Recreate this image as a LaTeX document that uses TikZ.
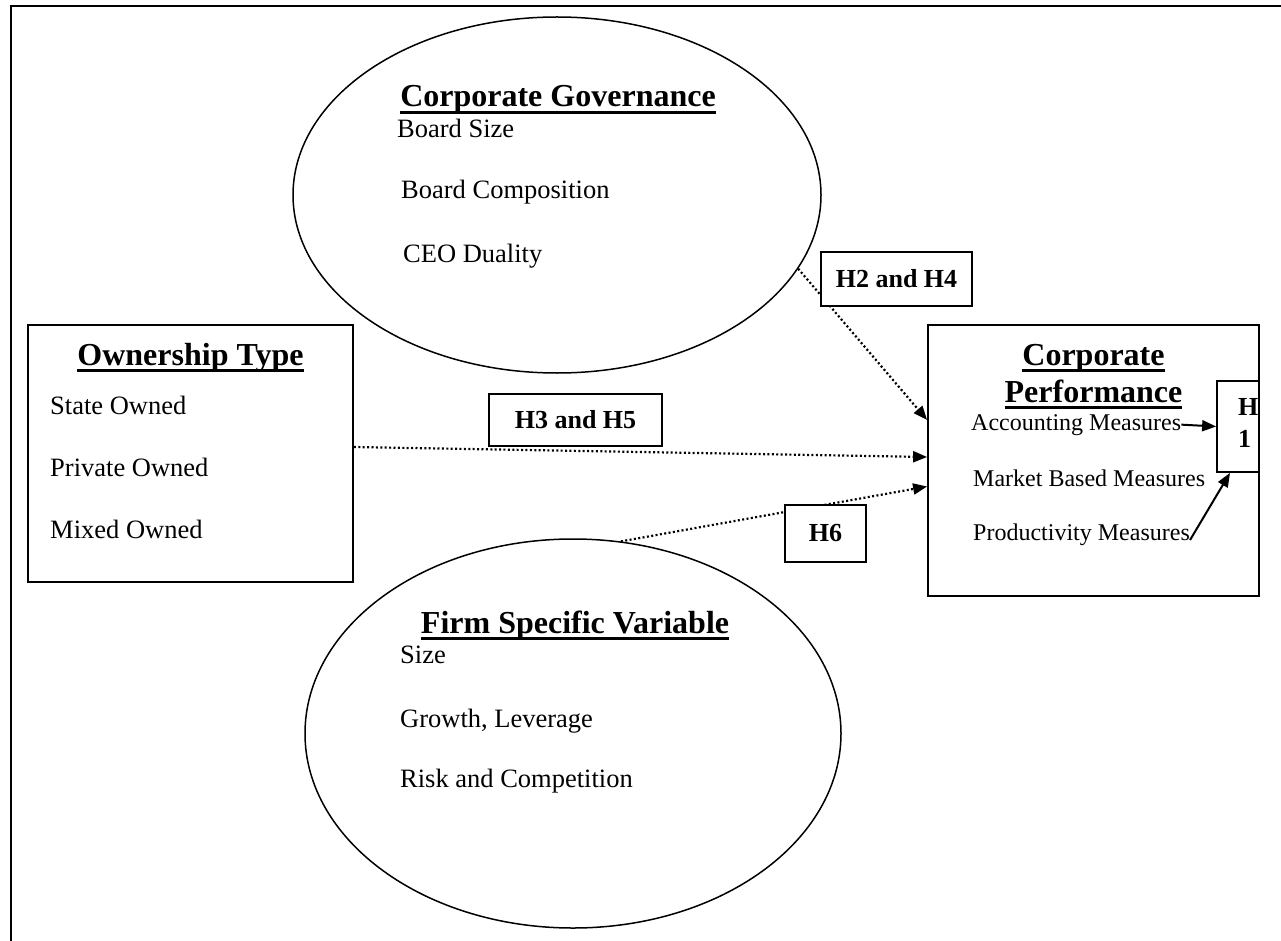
\documentclass[tikz,border=0pt]{standalone}
\usepackage{fontspec}
\setmainfont{Liberation Serif}
\usetikzlibrary{shapes.geometric,arrows.meta}
\newcommand\myul[1]{\setbox0\hbox{#1}\rlap{\rule[-7pt]{\wd0}{2.8pt}}\box0}
\tikzset{
  box/.style={draw, line width=1.8pt, inner sep=0pt},
  hbox/.style={draw, line width=1.8pt, fill=white, inner sep=0pt, font=\fontsize{26}{30}\selectfont\bfseries},
  oval/.style={draw, ellipse, line width=1.5pt, inner sep=0pt},
  title/.style={font=\fontsize{32}{36}\selectfont\bfseries, anchor=base, inner sep=0pt},
  item/.style={font=\fontsize{26.5}{30}\selectfont, anchor=base west, inner sep=0pt},
  pitem/.style={font=\fontsize{24}{28}\selectfont, anchor=base west, inner sep=0pt},
  hlabel/.style={font=\fontsize{26}{30}\selectfont\bfseries, anchor=base west, inner sep=0pt},
  dotarrow/.style={line width=2.2pt, dash pattern=on 2pt off 2.4pt, -{Triangle[length=14pt,width=11pt]}},
  solidarrow/.style={line width=2pt, -{Triangle[length=14pt,width=11pt]}},
  frame/.style={line width=2pt}
}
\begin{document}
\begin{tikzpicture}[x=1pt,y=-1pt]
\fill[white] (0,0) rectangle (1281,941);
\useasboundingbox (0,0) rectangle (1281,941);
% outer frame (top and left)
\draw[frame] (11,941) -- (11,6) -- (1281,6);

% main shapes
\node[oval, minimum width=528, minimum height=356] (gov) at (557,195) {};
\node[oval, minimum width=536, minimum height=389] (firm) at (573,733.5) {};
\node[box, minimum width=325, minimum height=257] (own) at (190.5,453.5) {};
\node[box, minimum width=331, minimum height=271] (perf) at (1093.5,460.5) {};

% Corporate Governance
\node[title] (govt) at (558,107) {\myul{Corporate Governance}};
\node[item] (gov1) at (397,138) {Board Size};
\node[item] (gov2) at (401,199) {Board Composition};
\node[item] (gov3) at (403,262) {CEO Duality};

% Firm Specific Variable
\node[title] (firmt) at (575,633) {\myul{Firm Specific Variable}};
\node[item] (firm1) at (400,663) {Size};
\node[item] (firm2) at (400,727) {Growth, Leverage};
\node[item] (firm3) at (400,787) {Risk and Competition};

% Ownership Type
\node[title] (ownt) at (190.5,365) {\myul{Ownership Type}};
\node[item] (own1) at (50,414) {State Owned};
\node[item] (own2) at (50,476) {Private Owned};
\node[item] (own3) at (50,538) {Mixed Owned};

% Corporate Performance
\node[title] (perft1) at (1093.5,365) {\myul{Corporate}};
\node[title] (perft2) at (1093.5,402) {\myul{Performance}};
\node[pitem] (acc) at (971,430) {Accounting Measures};
\node[pitem] (mkt) at (973,486) {Market Based Measures};
\node[pitem] (prod) at (973,540) {Productivity Measures};

% H1 box
\node[box, fill=white, minimum width=42, minimum height=91] (h1) at (1238,426.5) {};
\node[hlabel] (h1a) at (1238,415) {H};
\node[hlabel] (h1b) at (1238,447) {1};

% dotted hypothesis arrows
\draw[dotarrow] (gov.-17) -- ([yshift=40.5pt]perf.west);
\draw[dotarrow] ([yshift=6.5pt]own.east) -- ([yshift=3.5pt]perf.west);
\draw[dotarrow] (firm.76) -- ([yshift=-26pt]perf.west);

% solid arrows to H1
\draw[solidarrow] (acc.east) -- (h1.west);
\draw[solidarrow] (prod.base east) -- ([xshift=-8pt]h1.south);

% hypothesis labels
\node[hbox, minimum width=151, minimum height=54] (h24) at (896.5,279) {H2 and H4};
\node[hbox, minimum width=173, minimum height=52] (h35) at (575.5,420) {H3 and H5};
\node[hbox, minimum width=81, minimum height=57] (h6) at (825.5,533.5) {H6};
\end{tikzpicture}
\end{document}
